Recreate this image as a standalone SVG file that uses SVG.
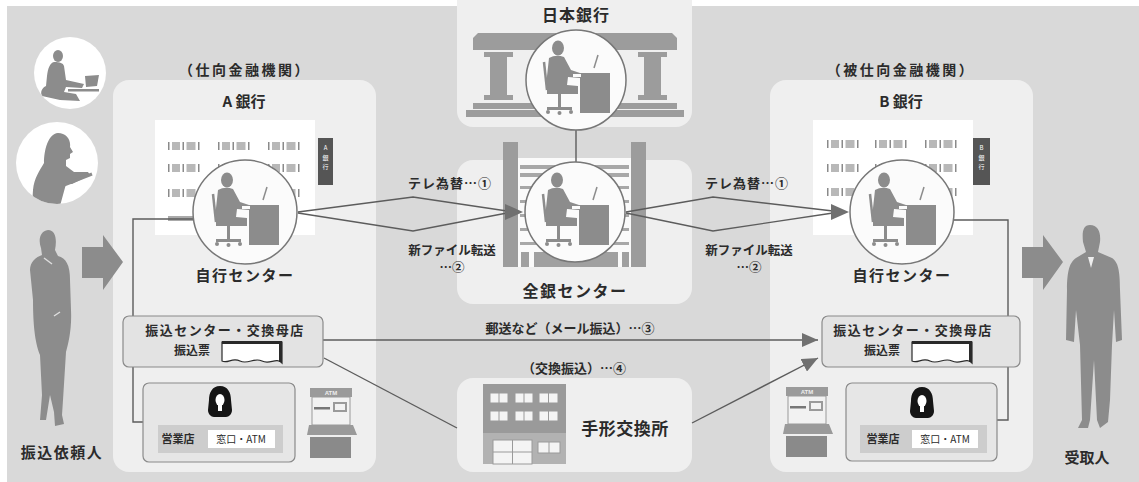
<svg xmlns="http://www.w3.org/2000/svg" width="1139" height="482" viewBox="0 0 1139 482">
  <defs>
    <style>
      text{font-family:"Noto Sans CJK JP","Noto Sans",sans-serif;font-weight:700;fill:#2b2b2b;text-anchor:middle}
      .panel{fill:#efefef}
      .sil{fill:#8c8c8c}
      .pillar{fill:#9c9c9c}
      .disk{fill:#fbfbfb;stroke:#777;stroke-width:1.5}
      .wire{fill:none;stroke:#5c5c5c;stroke-width:1.4}
      .faint{fill:none;stroke:#b0b0b0;stroke-width:1}
      .box{fill:#e3e3e3;stroke:#8a8a8a;stroke-width:1.2}
      .strip{fill:#cdcdcd}
      .bar{fill:#8a8a8a}
      .blk{fill:#b8b8b8}
      .sign{font-size:6px;fill:#fff;font-weight:400}
    </style>
    <marker id="ah" viewBox="0 0 16 14" refX="16" refY="7" markerWidth="16" markerHeight="14" markerUnits="userSpaceOnUse" orient="auto">
      <path d="M0,0 L16,7 L0,14 Z" fill="#707070"/>
    </marker>
    <clipPath id="c1"><circle cx="70" cy="73" r="36"/></clipPath>
    <clipPath id="c2"><circle cx="57" cy="163" r="41"/></clipPath>

    <!-- operator seated at a desk, drawn around a circle centre -->
    <g id="worker" class="sil">
      <ellipse cx="-18" cy="-32" rx="6" ry="7.5"/>
      <path d="M-27,-22 Q-20,-26 -12,-23 L-5,-10 L4,-7 L4,-2 L-8,-3 L-9,5 L2,6 L2,14 L-29,14 L-29,-4 Z"/>
      <path d="M-32,-18 L-29,10" stroke="#8c8c8c" stroke-width="2.5" fill="none"/>
      <rect x="-18" y="14" width="3" height="13"/>
      <rect x="-29" y="27" width="25" height="3"/>
      <circle cx="-28" cy="32" r="2"/>
      <circle cx="-16.5" cy="33" r="2"/>
      <circle cx="-5" cy="32" r="2"/>
      <rect x="4" y="-7" width="30" height="40"/>
      <rect x="-3" y="-6" width="8" height="3" fill="#fbfbfb"/>
      <path d="M18,-12 L22,-25" stroke="#8c8c8c" stroke-width="1.5" fill="none"/>
    </g>

    <!-- one window group of an office facade -->
    <g id="win">
      <rect class="bar" x="0" y="0" width="1.5" height="8"/>
      <rect class="blk" x="4" y="0" width="8" height="8"/>
      <rect class="bar" x="14.5" y="0" width="1.5" height="8"/>
      <rect class="blk" x="18.5" y="0" width="9" height="8"/>
      <rect class="bar" x="30" y="0" width="1.5" height="8"/>
    </g>

    <!-- ATM terminal -->
    <g id="atm">
      <rect x="0" y="0" width="42" height="9" fill="#9a9a9a"/>
      <text x="21" y="7" style="font-size:6px;fill:#eee;font-family:'Liberation Sans',sans-serif">ATM</text>
      <rect x="2" y="9" width="38" height="28" fill="#f2f2f2" stroke="#9a9a9a" stroke-width="1"/>
      <rect x="4" y="19" width="16" height="2.5" fill="#777"/>
      <rect x="23" y="14" width="14" height="10" fill="#9a9a9a"/>
      <rect x="25" y="16" width="10" height="6" fill="#f2f2f2"/>
      <path d="M-1,37 H43 L47,47 H-3 Z" fill="#9a9a9a"/>
      <rect x="0" y="49" width="41" height="21" fill="#8a8a8a"/>
    </g>

    <!-- counter clerk bust -->
    <g id="clerk">
      <path d="M0,-15 C-8,-15 -11,-8 -11,-1 L-12,9 C-12,13 -9,16 -6,16 L6,16 C9,16 12,13 12,9 L11,-1 C11,-8 8,-15 0,-15 Z" fill="#151515"/>
      <ellipse cx="0" cy="-1" rx="4.5" ry="6" fill="#fff"/>
      <rect x="-2" y="4" width="4" height="6" fill="#fff"/>
    </g>

    <!-- transfer slip -->
    <g id="slip">
      <path d="M0,1 H60 V22 C54,16 48,24 40,20 C32,16 26,24 18,20 C10,16 6,23 0,20 Z" fill="#fff" stroke="#2a2a2a" stroke-width="1.2"/>
      <rect x="0" y="0" width="60" height="3" fill="#2a2a2a"/>
      <rect x="57" y="0" width="3" height="21" fill="#2a2a2a"/>
    </g>
  </defs>

  <!-- backdrop -->
  <rect x="0" y="0" width="1139" height="482" fill="#fff"/>
  <rect x="7" y="6" width="1132" height="476" fill="#d9d9d9"/>

  <!-- panels -->
  <rect class="panel" x="113" y="80" width="263" height="392" rx="16"/>
  <rect class="panel" x="770" y="80" width="263" height="392" rx="16"/>
  <rect class="panel" x="457" y="-20" width="235" height="147" rx="16"/>
  <rect class="panel" x="457" y="160" width="235" height="144" rx="16"/>
  <rect class="panel" x="457" y="378" width="235" height="94" rx="16"/>

  <!-- remitter side -->
  <g id="customer-laptop">
    <circle cx="70" cy="73" r="36" fill="#fff"/>
    <g clip-path="url(#c1)" class="sil">
      <ellipse cx="58" cy="56" rx="5" ry="6"/>
      <path d="M54,62 C50,63 48,68 47,76 L46,86 C42,88 40,92 42,96 L60,100 L80,101 L76,94 L64,92 L66,87 L82,88 L84,84 L66,80 L64,66 C63,63 60,62 54,62 Z"/>
      <path d="M85,76 L99,75 L97,86 L86,87 Z"/>
      <rect x="68" y="89" width="31" height="2.5"/>
    </g>
  </g>
  <g id="customer-tablet">
    <circle cx="57" cy="163" r="41" fill="#fff"/>
    <g clip-path="url(#c2)">
      <path class="sil" d="M58,133 C66,133 71,139 70,147 L73,152 L70,154 L70,158 L66,160 L66,166 L74,172 L88,172 L90,175 L72,184 L66,184 L60,206 L32,206 L33,190 C34,178 40,170 44,163 C44,150 48,134 58,133 Z"/>
      <path d="M64,185 L92,174" stroke="#8c8c8c" stroke-width="3"/>
    </g>
  </g>
  <g id="remitter">
    <path class="sil" d="M48,230 C56,230 57,240 55,250 L58,256 C66,258 70,265 70,280 L71,310 C72,330 68,345 66,352 L63,400 L62,415 L64,424 L55,426 L54,412 L50,395 L46,420 L40,420 L42,395 L40,355 C36,345 33,330 33,300 L30,270 C30,262 36,257 42,255 L41,248 C38,240 40,231 48,230 Z"/>
    <path d="M44,258 L52,264 M54,316 L60,312" stroke="#ddd" stroke-width="1.5"/>
    <text x="62" y="458" style="font-size:15px;letter-spacing:1.5px">振込依頼人</text>
  </g>
  <path id="arrow-in" class="sil" d="M82,247 H103 V235 L123,262 L103,290 V278 H82 Z"/>

  <!-- payee side -->
  <path id="arrow-out" class="sil" d="M1022,247 H1043 V235 L1063,262 L1043,290 V278 H1022 Z"/>
  <g id="payee">
    <path class="sil" d="M1090,225 C1098,225 1101,232 1100,242 L1098,252 L1112,258 C1118,262 1120,270 1120,290 L1122,340 L1116,342 L1114,310 L1112,345 L1110,400 L1108,422 L1100,428 L1097,420 L1094,360 L1090,420 L1088,428 L1078,428 L1082,420 L1080,345 L1076,310 L1074,342 L1066,340 L1067,290 C1067,270 1070,262 1076,258 L1086,252 L1083,242 C1082,232 1083,225 1090,225 Z"/>
    <path d="M1088,257 L1091,268 L1094,257 Z" fill="#eee"/>
    <text x="1087" y="463" style="font-size:15px">受取人</text>
  </g>

  <!-- Bank A -->
  <g id="bank-a">
    <text x="245" y="75" style="font-size:14px;letter-spacing:2.5px">（仕向金融機関）</text>
    <text x="244" y="107" style="font-size:15px">A 銀行</text>
    <rect x="155" y="120" width="160" height="115" fill="#fff"/>
    <use href="#win" x="168" y="142"/><use href="#win" x="218" y="142"/><use href="#win" x="268" y="142"/>
    <use href="#win" x="168" y="164"/><use href="#win" x="218" y="164"/><use href="#win" x="268" y="164"/>
    <use href="#win" x="168" y="189"/><use href="#win" x="218" y="189"/><use href="#win" x="268" y="189"/>
    <rect x="168" y="216" width="27" height="5" fill="#aaa"/>
    <rect x="318" y="138" width="15" height="47" fill="#555"/>
    <text class="sign" x="325.5" y="150">A</text>
    <text class="sign" x="325.5" y="160">銀</text>
    <text class="sign" x="325.5" y="169">行</text>
  </g>

  <!-- Bank B -->
  <g id="bank-b">
    <text x="901" y="75" style="font-size:14px;letter-spacing:2.5px">（被仕向金融機関）</text>
    <text x="901" y="107" style="font-size:15px">B 銀行</text>
    <rect x="813" y="120" width="160" height="115" fill="#fff"/>
    <use href="#win" x="827" y="140"/><use href="#win" x="875" y="140"/><use href="#win" x="925" y="140"/>
    <use href="#win" x="827" y="164"/><use href="#win" x="875" y="164"/><use href="#win" x="925" y="164"/>
    <use href="#win" x="827" y="188"/><use href="#win" x="875" y="188"/><use href="#win" x="925" y="188"/>
    <rect x="973" y="138" width="17" height="47" fill="#555"/>
    <text class="sign" x="981.5" y="150">B</text>
    <text class="sign" x="981.5" y="160">銀</text>
    <text class="sign" x="981.5" y="169">行</text>
  </g>

  <!-- Bank of Japan -->
  <g id="boj">
    <text x="576" y="21" style="font-size:16px;letter-spacing:1px">日本銀行</text>
    <path class="pillar" d="M478,33 H672 L677,38 V50 H473 V38 Z"/>
    <rect class="pillar" x="484" y="52" width="29" height="5"/>
    <rect class="pillar" x="490" y="57" width="17" height="38"/>
    <rect class="pillar" x="484" y="95" width="29" height="5"/>
    <rect class="pillar" x="638" y="52" width="29" height="5"/>
    <rect class="pillar" x="644" y="57" width="17" height="38"/>
    <rect class="pillar" x="638" y="95" width="29" height="5"/>
    <rect class="pillar" x="473" y="103" width="204" height="6"/>
    <rect class="pillar" x="466" y="110" width="218" height="7"/>
  </g>

  <!-- Zengin centre building -->
  <g id="zengin">
    <rect x="518" y="158" width="113" height="109" fill="#fafafa"/>
    <rect class="pillar" x="503" y="142" width="15" height="125"/>
    <rect class="pillar" x="631" y="142" width="15" height="125"/>
    <rect x="520" y="165" width="109" height="4" fill="#a8a8a8"/>
    <rect x="520" y="173" width="109" height="4" fill="#a8a8a8"/>
    <rect x="520" y="186" width="109" height="3" fill="#a8a8a8"/>
    <rect x="520" y="200" width="109" height="3" fill="#a8a8a8"/>
    <rect x="520" y="214" width="109" height="3" fill="#a8a8a8"/>
    <rect x="520" y="228" width="109" height="3" fill="#a8a8a8"/>
    <rect x="520" y="242" width="109" height="3" fill="#a8a8a8"/>
    <rect x="521" y="252" width="8" height="15" fill="#a0a0a0"/>
    <rect x="534" y="252" width="84" height="15" fill="#a0a0a0"/>
    <rect x="622" y="252" width="7" height="15" fill="#a0a0a0"/>
    <text x="575" y="297" style="font-size:16px;letter-spacing:1.5px">全銀センター</text>
  </g>

  <!-- clearing house -->
  <g id="clearing-house">
    <rect x="483" y="384" width="83" height="49" fill="#9a9a9a"/>
    <rect x="483" y="433" width="83" height="31" fill="#b2b2b2"/>
    <g fill="#f4f4f4" stroke="#9a9a9a" stroke-width="1">
      <rect x="490" y="393" width="18" height="10"/><rect x="515" y="393" width="18" height="10"/><rect x="539" y="393" width="19" height="10"/>
      <rect x="490" y="411" width="18" height="10"/><rect x="515" y="411" width="18" height="10"/><rect x="539" y="411" width="19" height="10"/>
      <rect x="493" y="440" width="39" height="24"/>
      <rect x="538" y="442" width="22" height="11"/>
    </g>
    <path d="M499,393 V403 M524,393 V403 M548.5,393 V403 M499,411 V421 M524,411 V421 M548.5,411 V421 M512.5,440 V464 M493,452 H532 M549,442 V453" stroke="#9a9a9a" stroke-width="1"/>
    <text x="625" y="435" style="font-size:17px;letter-spacing:0.5px">手形交換所</text>
  </g>

  <!-- connectors -->
  <g id="connectors">
    <path class="wire" d="M193,219 H133 V422 H143"/>
    <path class="wire" d="M954,220 H1008 V420 H997"/>
    <path class="faint" d="M123,347 H170"/>
    <path class="faint" d="M970,347 H1008"/>
    <path class="wire" d="M576,130 V162"/>
    <path class="wire" d="M298,212 L413,197 L507,211 M298,213 L413,231 L507,213"/>
    <path d="M505,204 L523,212 L505,220 Z" fill="#707070"/>
    <path class="wire" d="M626,212 L713,197 L833,211 M626,213 L713,231 L833,213"/>
    <path d="M831,204 L849,212 L831,220 Z" fill="#707070"/>
    <path class="wire" d="M323,340 H818" marker-end="url(#ah)"/>
    <path class="wire" d="M324,358 L457,428"/>
    <path class="wire" d="M692,423 L818,358" marker-end="url(#ah)"/>
  </g>

  <!-- centre discs with operators -->
  <g id="center-a">
    <circle class="disk" cx="245" cy="212" r="52"/>
    <use href="#worker" x="245" y="212"/>
    <text x="245" y="281" style="font-size:15px;letter-spacing:1.5px">自行センター</text>
  </g>
  <g id="center-boj">
    <circle class="disk" cx="576" cy="80" r="50"/>
    <use href="#worker" x="576" y="80"/>
  </g>
  <g id="center-zengin">
    <circle class="disk" cx="575" cy="212" r="50"/>
    <use href="#worker" x="575" y="212"/>
  </g>
  <g id="center-b">
    <circle class="disk" cx="902" cy="212" r="52"/>
    <use href="#worker" x="902" y="212"/>
    <text x="902" y="281" style="font-size:15px;letter-spacing:1.5px">自行センター</text>
  </g>

  <!-- connector labels -->
  <g id="labels">
    <text x="450" y="188" style="font-size:13px;letter-spacing:1px">テレ為替…①</text>
    <text x="747" y="188" style="font-size:13px;letter-spacing:1px">テレ為替…①</text>
    <text x="452" y="255" style="font-size:12.5px">新ファイル転送</text>
    <text x="452" y="272" style="font-size:12.5px">…②</text>
    <text x="749" y="255" style="font-size:12.5px">新ファイル転送</text>
    <text x="749" y="272" style="font-size:12.5px">…②</text>
    <text x="570" y="333" style="font-size:13px">郵送など（メール振込）…③</text>
    <text x="574" y="373" style="font-size:13px">（交換振込）…④</text>
  </g>

  <!-- transfer desks -->
  <g id="desk-a">
    <rect class="box" x="123" y="316" width="200" height="51" rx="6"/>
    <text x="225" y="335" style="font-size:13px;letter-spacing:1.5px">振込センター・交換母店</text>
    <text x="192" y="355" style="font-size:12px">振込票</text>
    <use href="#slip" x="222" y="341"/>
  </g>
  <g id="desk-b">
    <rect class="box" x="822" y="316" width="198" height="51" rx="6"/>
    <text x="913" y="335" style="font-size:13px;letter-spacing:1.5px">振込センター・交換母店</text>
    <text x="882" y="355" style="font-size:12px">振込票</text>
    <use href="#slip" x="912" y="341"/>
  </g>

  <!-- branches -->
  <g id="branch-a">
    <rect class="box" x="143" y="383" width="152" height="79" rx="6" style="fill:#e6e6e6"/>
    <use href="#clerk" x="220" y="401"/>
    <rect class="strip" x="158" y="425" width="125" height="28"/>
    <text x="178" y="443" style="font-size:11px">営業店</text>
    <rect x="208" y="430" width="67" height="18" fill="#fff"/>
    <text x="241" y="443" style="font-size:10px;font-weight:400">窓口・ATM</text>
  </g>
  <use id="atm-a" href="#atm" x="310" y="388"/>
  <g id="branch-b">
    <rect class="box" x="846" y="383" width="151" height="78" rx="6" style="fill:#e6e6e6"/>
    <use href="#clerk" x="922" y="402"/>
    <rect class="strip" x="860" y="425" width="127" height="28"/>
    <text x="883" y="443" style="font-size:11px">営業店</text>
    <rect x="912" y="430" width="66" height="18" fill="#fff"/>
    <text x="945" y="443" style="font-size:10px;font-weight:400">窓口・ATM</text>
  </g>
  <use id="atm-b" href="#atm" x="786" y="387"/>
</svg>
